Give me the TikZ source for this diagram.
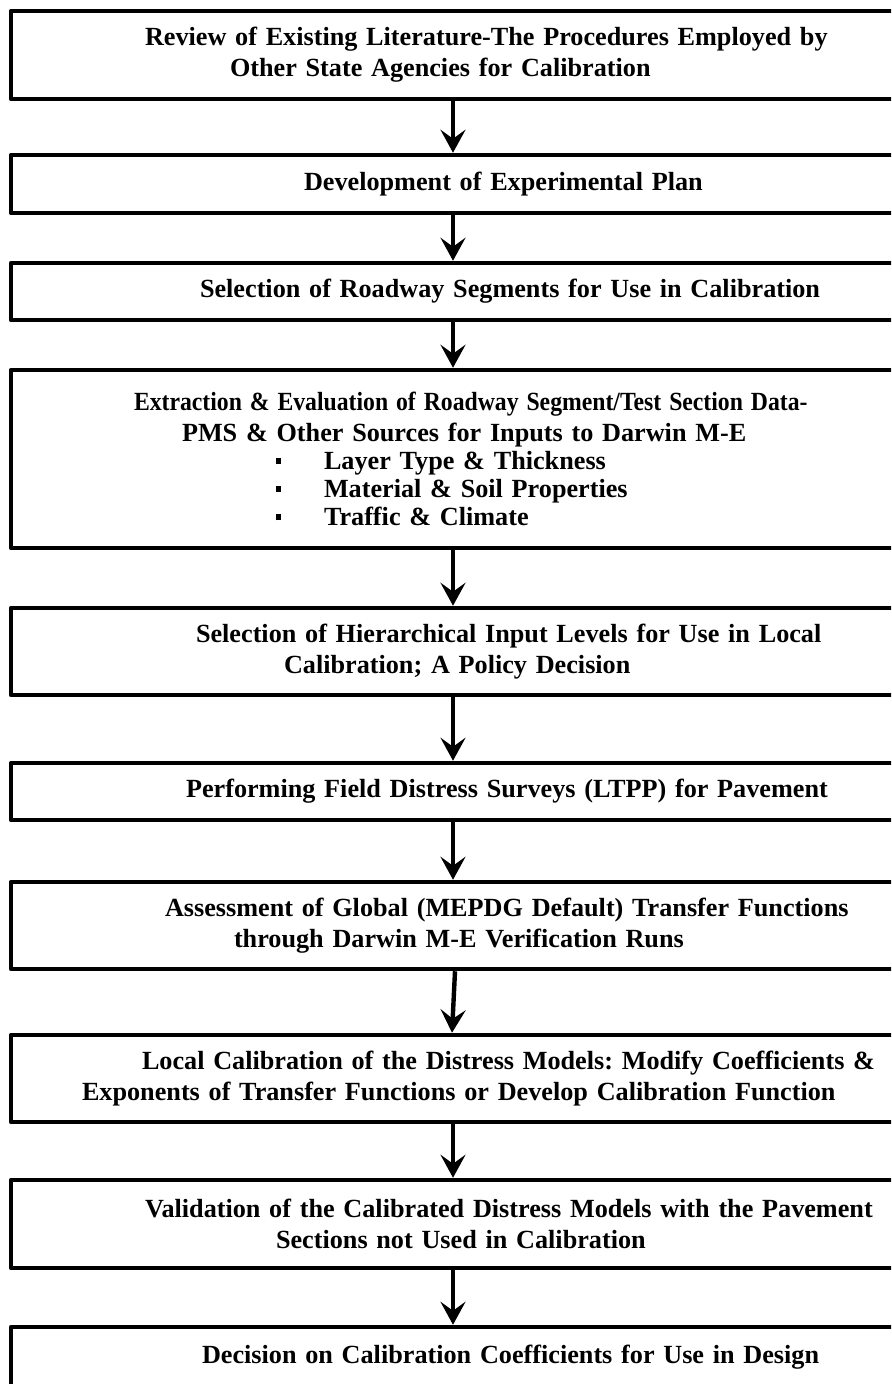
\documentclass[tikz,border=0pt]{standalone}
\usepackage{fontspec}
\setmainfont{Liberation Serif}
\usetikzlibrary{arrows.meta}
\frenchspacing

\tikzset{
  stepbox/.style={draw, line width=2.25pt, line join=round, text width=442pt,
    inner xsep=0pt, inner ysep=0pt, align=left,
    font=\bfseries\fontsize{13.1pt}{15.5pt}\selectfont},
  flow/.style={line width=2.2pt, -{Stealth[length=11.5pt, width=12.5pt, inset=4.5pt]}}
}
% small square bullet with the gap up to the item text
\newcommand{\sqbul}{\makebox[24pt][l]{\rule[2.6pt]{2.6pt}{3.4pt}}}

\begin{document}
\begin{tikzpicture}[x=0.5pt, y=-0.5pt]
  \useasboundingbox (0,0) rectangle (891,1384);
  \clip (0,0) rectangle (891,1384);

  % the steps, top to bottom
  \node[stepbox, minimum height=44pt] (review) at (453,55)
    {\hspace*{67pt}Review of Existing Literature-The Procedures Employed by\\\hspace*{109.5pt}Other State Agencies for Calibration};
  \node[stepbox, minimum height=29pt] (plan) at (453,184)
    {\hspace*{146.5pt}Development of Experimental Plan};
  \node[stepbox, minimum height=28.5pt] (segments) at (453,291.5)
    {\hspace*{94.5pt}Selection of Roadway Segments for Use in Calibration};
  \node[stepbox, minimum height=89pt, font=\bfseries\fontsize{13.1pt}{14pt}\selectfont] (extract) at (453,459)
    {\hspace*{61.5pt}\scalebox{0.905}[1]{Extraction \& Evaluation of Roadway Segment/Test Section Data-}\\[1.5pt]\hspace*{85.5pt}PMS \& Other Sources for Inputs to Darwin M-E\\\hspace*{132.5pt}\sqbul Layer Type \& Thickness\\\hspace*{132.5pt}\sqbul Material \& Soil Properties\\\hspace*{132.5pt}\sqbul Traffic \& Climate};
  \node[stepbox, minimum height=43.5pt] (levels) at (453,651.5)
    {\hspace*{92.5pt}Selection of Hierarchical Input Levels for Use in Local\\\hspace*{136.5pt}Calibration; A Policy Decision};
  \node[stepbox, minimum height=28.5pt] (surveys) at (453,791.5)
    {\hspace*{87.5pt}Performing Field Distress Surveys (LTPP) for Pavement};
  \node[stepbox, minimum height=43.5pt] (global) at (453,925.5)
    {\hspace*{77pt}Assessment of Global (MEPDG Default) Transfer Functions\\\hspace*{111.5pt}through Darwin M-E Verification Runs};
  \node[stepbox, minimum height=43.5pt] (local) at (453,1078.5)
    {\hspace*{65.5pt}Local Calibration of the Distress Models: Modify Coefficients \&\\\hspace*{35.5pt}Exponents of Transfer Functions or Develop Calibration Function};
  \node[stepbox, minimum height=44pt] (valid) at (453,1224)
    {\hspace*{67pt}Validation of the Calibrated Distress Models with the Pavement\\\hspace*{132.5pt}Sections not Used in Calibration};
  \node[stepbox, minimum height=30pt] (decision) at (453,1357)
    {\hspace*{95.5pt}Decision on Calibration Coefficients for Use in Design};

  % arrows between the steps
  \draw[flow] (review) -- (plan);
  \draw[flow] (plan) -- (segments);
  \draw[flow] (segments) -- (extract);
  \draw[flow] (extract) -- (levels);
  \draw[flow] (levels) -- (surveys);
  \draw[flow] (surveys) -- (global);
  \draw[flow] ([xshift=1pt]global.south) -- ([xshift=-0.5pt]local.north);
  \draw[flow] (local) -- (valid);
  \draw[flow] (valid) -- (decision);
\end{tikzpicture}
\end{document}
